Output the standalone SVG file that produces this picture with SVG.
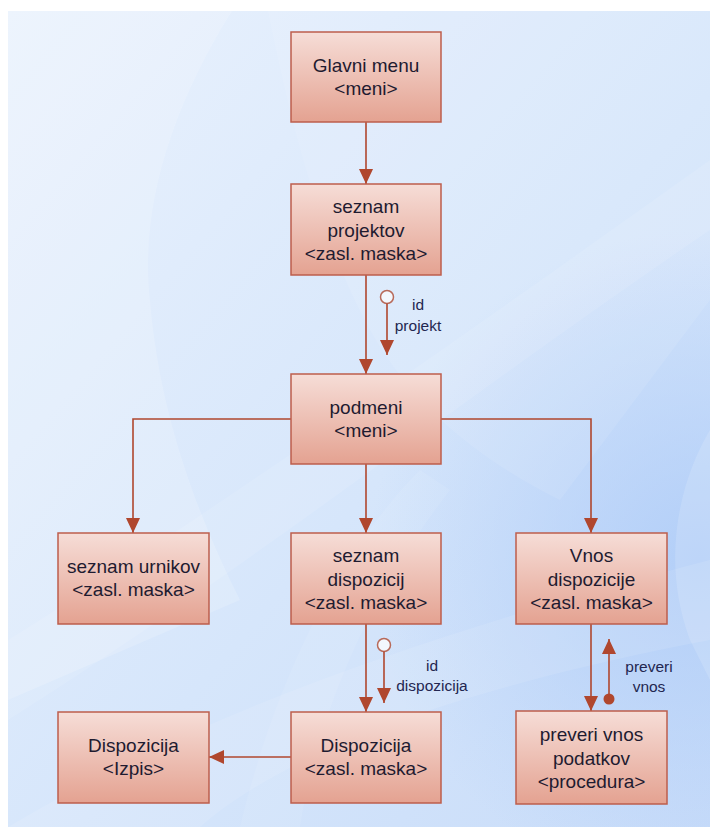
<svg xmlns="http://www.w3.org/2000/svg" width="710" height="827" viewBox="0 0 710 827">
  <defs>
    <linearGradient id="bgBase" x1="0" y1="0" x2="1" y2="1">
      <stop offset="0" stop-color="#eaf2fd"/>
      <stop offset="0.55" stop-color="#d6e6fb"/>
      <stop offset="1" stop-color="#c8dcf9"/>
    </linearGradient>
    <radialGradient id="bgGlow" cx="700" cy="560" r="330" gradientUnits="userSpaceOnUse">
      <stop offset="0" stop-color="#b0cdf8" stop-opacity="0.9"/>
      <stop offset="1" stop-color="#b0cdf8" stop-opacity="0"/>
    </radialGradient>
    <linearGradient id="boxFill" x1="0" y1="0" x2="0" y2="1">
      <stop offset="0" stop-color="#f6ddd7"/>
      <stop offset="1" stop-color="#e4a291"/>
    </linearGradient>
    <marker id="arrow" markerUnits="userSpaceOnUse" markerWidth="16" markerHeight="14" refX="15" refY="7" orient="auto">
      <path d="M0,0 L15,7 L0,14 z" fill="#b0472e"/>
    </marker>
    <style>
      .node rect { fill: url(#boxFill); stroke: #bd5e4c; stroke-width: 1.5; }
      .node text { font-family: "Liberation Sans", Arial, sans-serif; font-size: 19px; fill: #1f1b30; text-anchor: middle; }
      .edge { fill: none; stroke: #b0472e; stroke-width: 1.6; }
      .edge-end { marker-end: url(#arrow); }
      .label { font-family: "Liberation Sans", Arial, sans-serif; font-size: 15.5px; fill: #232650; text-anchor: middle; }
      .band { fill: #ffffff; }
    </style>
  </defs>

  <!-- backdrop -->
  <rect x="0" y="0" width="710" height="827" fill="#ffffff"/>
  <g id="backdrop">
    <rect x="8" y="11" width="702" height="816" fill="url(#bgBase)"/>
    <rect x="8" y="11" width="702" height="816" fill="url(#bgGlow)"/>
    <!-- soft swirl bands -->
    <path class="band" d="M8,11 H232 C170,110 140,210 150,300 C160,420 200,520 240,600 L8,700 Z" opacity="0.16"/>
    <path class="band" d="M268,11 C290,120 320,240 370,330 C420,420 500,470 560,500 L710,300 V11 Z" opacity="0.09"/>
    <path class="band" d="M8,640 C200,520 430,360 710,160 V230 C460,400 260,560 8,720 Z" opacity="0.1"/>
    <path class="band" d="M8,827 C220,700 480,620 710,560 V640 C500,680 300,740 200,827 Z" opacity="0.1"/>
    <path class="band" d="M710,430 C680,480 660,560 690,640 L710,680 Z" opacity="0.14"/>
    <path class="band" d="M240,827 C270,700 330,560 420,470 L450,490 C380,580 320,700 300,827 Z" opacity="0.08"/>
  </g>

  <!-- connectors -->
  <g id="connectors">
    <path class="edge edge-end" d="M366,122 V184"/>
    <path class="edge edge-end" d="M366,275 V374"/>
    <circle cx="387" cy="297" r="6.5" fill="#f3f7fd" stroke="#b86a5a" stroke-width="1.5"/>
    <path class="edge edge-end" d="M387,303.5 V355"/>
    <text class="label" x="418" y="310">id</text>
    <text class="label" x="418" y="331">projekt</text>

    <path class="edge edge-end" d="M291,419 H133 V533"/>
    <path class="edge edge-end" d="M366,464 V533"/>
    <path class="edge edge-end" d="M441,419 H591 V533"/>

    <path class="edge edge-end" d="M366,624 V712"/>
    <circle cx="384" cy="645" r="6.5" fill="#f3f7fd" stroke="#b86a5a" stroke-width="1.5"/>
    <path class="edge edge-end" d="M384,651.5 V703"/>
    <text class="label" x="432" y="671">id</text>
    <text class="label" x="432" y="691">dispozicija</text>

    <path class="edge edge-end" d="M291,757 H209"/>

    <path class="edge edge-end" d="M591,624 V711"/>
    <circle cx="609" cy="699" r="5.5" fill="#b0472e"/>
    <path class="edge edge-end" d="M609,699 V639"/>
    <text class="label" x="649" y="672">preveri</text>
    <text class="label" x="649" y="692">vnos</text>
  </g>

  <!-- nodes -->
  <g id="glavni-menu" class="node">
    <rect x="291" y="32" width="150" height="90"/>
    <text x="366" y="72">Glavni menu</text>
    <text x="366" y="95">&lt;meni&gt;</text>
  </g>
  <g id="seznam-projektov" class="node">
    <rect x="291" y="184" width="150" height="91"/>
    <text x="366" y="213">seznam</text>
    <text x="366" y="236.5">projektov</text>
    <text x="366" y="260">&lt;zasl. maska&gt;</text>
  </g>
  <g id="podmeni" class="node">
    <rect x="291" y="374" width="150" height="90"/>
    <text x="366" y="414">podmeni</text>
    <text x="366" y="437">&lt;meni&gt;</text>
  </g>
  <g id="seznam-urnikov" class="node">
    <rect x="58" y="533" width="151" height="91"/>
    <text x="133.5" y="573">seznam urnikov</text>
    <text x="133.5" y="596">&lt;zasl. maska&gt;</text>
  </g>
  <g id="seznam-dispozicij" class="node">
    <rect x="291" y="533" width="150" height="91"/>
    <text x="366" y="562">seznam</text>
    <text x="366" y="585.5">dispozicij</text>
    <text x="366" y="609">&lt;zasl. maska&gt;</text>
  </g>
  <g id="vnos-dispozicije" class="node">
    <rect x="516" y="533" width="151" height="91"/>
    <text x="591.5" y="562">Vnos</text>
    <text x="591.5" y="585.5">dispozicije</text>
    <text x="591.5" y="609">&lt;zasl. maska&gt;</text>
  </g>
  <g id="dispozicija-izpis" class="node">
    <rect x="58" y="712" width="151" height="91"/>
    <text x="133.5" y="752">Dispozicija</text>
    <text x="133.5" y="775">&lt;Izpis&gt;</text>
  </g>
  <g id="dispozicija-maska" class="node">
    <rect x="291" y="712" width="150" height="91"/>
    <text x="366" y="752">Dispozicija</text>
    <text x="366" y="775">&lt;zasl. maska&gt;</text>
  </g>
  <g id="preveri-vnos-podatkov" class="node">
    <rect x="516" y="711" width="151" height="93"/>
    <text x="591.5" y="741">preveri vnos</text>
    <text x="591.5" y="764.5">podatkov</text>
    <text x="591.5" y="788">&lt;procedura&gt;</text>
  </g>
</svg>
